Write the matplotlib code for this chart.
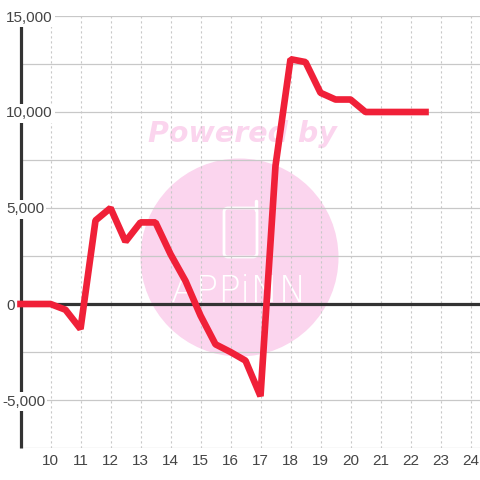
import matplotlib
matplotlib.use("Agg")
import matplotlib.pyplot as plt
from matplotlib.patches import Circle, FancyBboxPatch

hours = [9, 9.5, 10, 10.5, 11, 11.5, 12, 12.5, 13, 13.5, 14, 14.5, 15, 15.5, 16, 16.5, 17, 17.5, 18, 18.5, 19, 19.5, 20, 20.5, 21, 21.5, 22, 22.5]
values = [0, 0, 0, -300, -1300, 4350, 5000, 3250, 4250, 4250, 2600, 1200, -600, -2100, -2500, -2950, -4800, 7200, 12750, 12600, 11000, 10650, 10650, 10000, 10000, 10000, 10000, 10000]
x_ticks = list(range(10, 25))
y_major = [15000, 10000, 5000, 0, -5000]
y_minor = [12500, 7500, 2500, -2500, -7500]

plt.rcParams['font.family'] = ['Liberation Sans', 'DejaVu Sans']

W = 480
fig = plt.figure(figsize=(4.8, 4.8), dpi=100)

# watermark sits behind everything, in pixel coordinates
bg = fig.add_axes([0, 0, 1, 1], zorder=0)
bg.set_xlim(0, W)
bg.set_ylim(W, 0)
bg.axis('off')
pink = '#fbd5ee'
bg.add_patch(Circle((239.5, 257.5), 99, color=pink, lw=0))
bg.text(242, 134, 'Powered by', color=pink, fontsize=20.5, fontweight='bold', style='italic',
        family='DejaVu Sans', ha='center', va='center')
bg.add_patch(FancyBboxPatch((224, 208), 33, 49, boxstyle='round,pad=0,rounding_size=4', fc='none', ec='white', lw=2))
bg.plot([255.5, 255.5], [201, 210], color='white', lw=2.5, solid_capstyle='round')
bg.text(239.5, 291, 'APPiNN', color='white', fontsize=27, family='DejaVu Sans', fontweight='light',
        ha='center', va='center')

ax = fig.add_axes([20.5 / W, (W - 448) / W, (W - 20.5) / W, 432 / W], zorder=1)
ax.patch.set_alpha(0)
ax.set_xlim(9, 9 + (W - 20.5) / 30)
ax.set_ylim(-7500, 15000)

ax.set_xticks(x_ticks)
ax.set_yticks(y_major + y_minor)
ax.set_yticklabels([])
ax.tick_params(length=0, labelsize=11, labelcolor='#444444', pad=4)
ax.xaxis.grid(True, color='#c8c8c8', lw=0.8, ls=(0, (2, 2.5)))
ax.yaxis.grid(True, color='#c8c8c8', lw=0.9)
ax.set_axisbelow(True)

for s in ['top', 'right', 'bottom']:
    ax.spines[s].set_visible(False)
ax.spines['left'].set_color('#333333')
ax.spines['left'].set_linewidth(2.3)
ax.spines['left'].set_capstyle('butt')

ax.axhline(0, color='#333333', lw=2.3, zorder=2)
ax.plot(hours, values, color='#f02038', lw=4.8, solid_joinstyle='bevel', solid_capstyle='projecting', clip_on=False, zorder=3)

for v in y_major:
    txt = format(v, ',')
    ax.annotate(txt, (0, v), xycoords=ax.get_yaxis_transform(), xytext=(-14.5 if v >= 0 else -18.5, -1.5),
                textcoords='offset pixels', ha='left', va='center', fontsize=11, color='#444444',
                annotation_clip=False, zorder=4,
                bbox=dict(fc='white', ec='none', pad=1.5))

fig.savefig('out.png', dpi=100)
